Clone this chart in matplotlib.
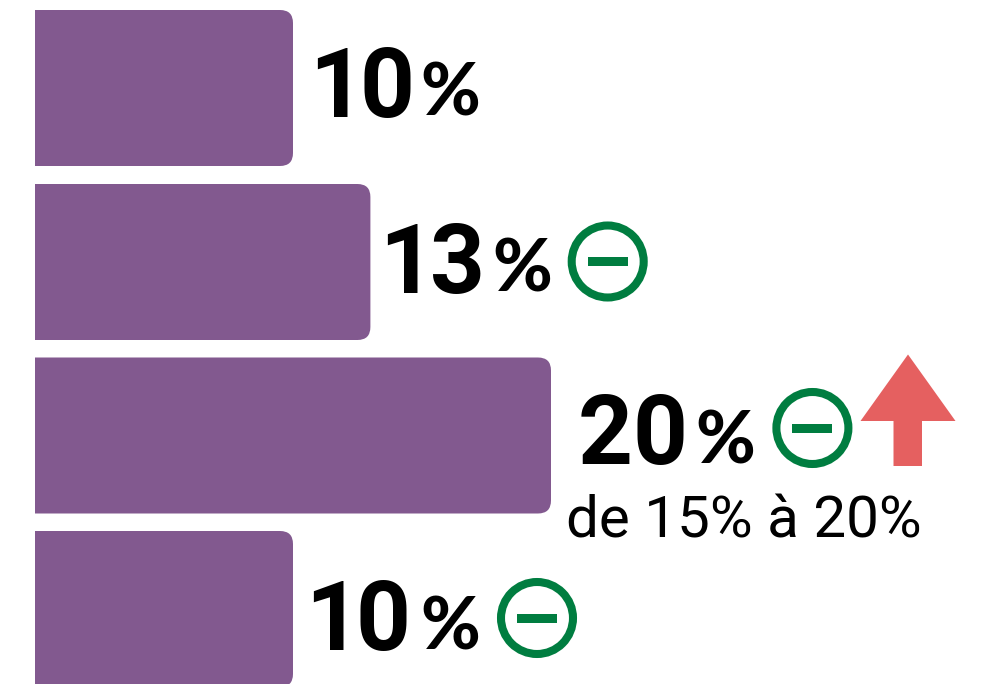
import matplotlib
matplotlib.use('Agg')
import matplotlib.pyplot as plt
from matplotlib.patches import FancyBboxPatch, Circle, Polygon, Rectangle

values = [10, 13, 20, 10]
labels = ['10', '13', '20', '10']
has_minus = [False, True, True, True]
note = 'de 15% à 20%'

purple = '#82598f'
green = '#007d40'
red = '#e56060'

fig = plt.figure(figsize=(9.81, 6.84), dpi=100)
ax = fig.add_axes([0, 0, 1, 1])
ax.set_xlim(0, 981)
ax.set_ylim(684, 0)
ax.axis('off')

x0 = 35
scale = 25.8
h = 156
tops = [10, 184, 357.5, 531]
# layout of the text next to each bar, digits are placed one by one (narrow 1)
digit_x = [[337, 387], [407, 457.5], [605, 660], [333, 383]]
label_y = [117, 293, 464, 650]
pct_x = [450, 522, 725, 450]
circle_x = [0, 607.7, 812.4, 537]
circle_y = [0, 261.5, 428, 618]

for i, v in enumerate(values):
    w = v * scale
    # bar starts left of the visible edge so only right corners are round
    bar = FancyBboxPatch((x0 - 30, tops[i]), w + 30, h, boxstyle='round,pad=0,rounding_size=13', fc=purple, ec='none', zorder=2)
    ax.add_patch(bar)
    bar.set_clip_path(Rectangle((x0, 0), 981, 684, transform=ax.transData))

    for ch, dx in zip(labels[i], digit_x[i]):
        ax.text(dx, label_y[i], ch, fontsize=69, fontweight='bold', family='Roboto', va='baseline', ha='center', color='black')
    ax.text(pct_x[i], label_y[i] - 1, '%', fontsize=52, fontweight='black', family='Lato', va='baseline', ha='center', color='black')
    if has_minus[i]:
        cx, cy = circle_x[i], circle_y[i]
        ax.add_patch(Circle((cx, cy), 36, fc='white', ec=green, lw=5.8))
        ax.add_patch(Rectangle((cx - 20, cy - 4.5), 40, 9, fc=green, ec='none'))

# arrow
ax.add_patch(Polygon([(908, 354.5), (955.5, 421), (922, 421), (922, 466), (893.5, 466), (893.5, 421), (860.5, 421)], closed=True, fc=red, ec='none'))
ax.text(744, 538, note, fontsize=42, family='Roboto', ha='center', va='baseline', color='black')

fig.savefig('out.png', dpi=100)
